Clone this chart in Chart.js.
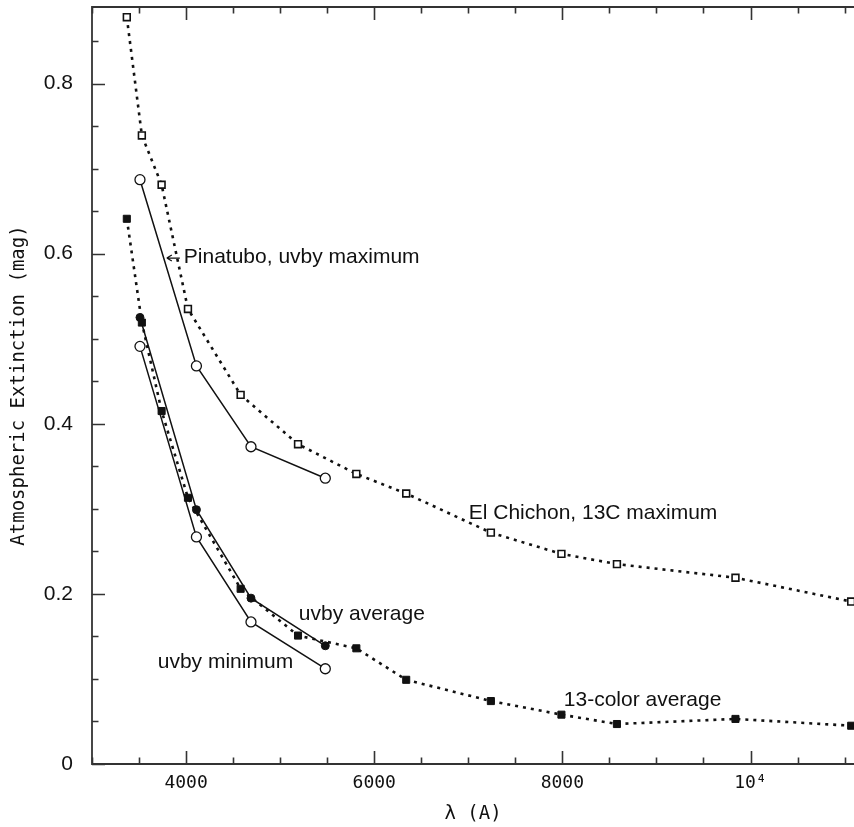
<!DOCTYPE html>
<html>
<head>
<meta charset="utf-8">
<script src="https://cdn.jsdelivr.net/npm/chart.js@4.4.1/dist/chart.umd.min.js"></script>
<style>
  html, body { margin: 0; padding: 0; background: #fff; overflow: hidden; }
  #wrap { width: 854px; height: 827px; }
</style>
</head>
<body>
<div id="wrap"><canvas id="extChart"></canvas></div>
<script>
// wavelengths (Angstrom) of the 13-color and uvby filters
const wl13 = [3370, 3530, 3740, 4020, 4580, 5190, 5810, 6340, 7240, 7990, 8580, 9840, 11070];
const wlUvby = [3510, 4110, 4690, 5480];

// extinction values (mag)
const elChichonMax = [0.878, 0.739, 0.681, 0.535, 0.434, 0.376, 0.341, 0.318, 0.272, 0.247, 0.235, 0.219, 0.191];
const thirteenColorAvg = [0.641, 0.519, 0.415, 0.313, 0.206, 0.151, 0.136, 0.099, 0.074, 0.058, 0.047, 0.053, 0.045];
const pinatuboMax = [0.687, 0.468, 0.373, 0.336];
const uvbyAvg = [0.525, 0.299, 0.195, 0.139];
const uvbyMin = [0.491, 0.267, 0.167, 0.112];

// axis ticks
const xTickValues = [4000, 6000, 8000, 10000];
const xTickLabels = ['4000', '6000', '8000', '10\u2074'];
const yTickValues = [0, 0.2, 0.4, 0.6, 0.8];
const yTickLabels = ['0', '0.2', '0.4', '0.6', '0.8'];
const xMinorStep = 500;
const yMinorStep = 0.05;

// text labels placed in data coordinates
const noteTexts = ['Pinatubo, uvby maximum', 'El Chichon, 13C maximum', 'uvby average', 'uvby minimum', '13-color average'];
const noteX = [3976, 7005, 5198, 3699, 8015];
const noteY = [0.596, 0.295, 0.176, 0.120, 0.075];

const INK = '#111';
const FRAME = '#333';

function pairs(xs, ys){
  return xs.map((x, i) => ({x: x, y: ys[i]}));
}

// frame + inward tick marks (major and minor) drawn through the scales
const frameTicks = {
  id: 'frameTicks',
  afterDatasetsDraw(chart){
    const ctx = chart.ctx;
    const a = chart.chartArea;
    const xs = chart.scales.x, ys = chart.scales.y;
    ctx.save();
    ctx.strokeStyle = FRAME;
    ctx.lineWidth = 1.8;
    ctx.beginPath();
    ctx.moveTo(a.right + 2, a.top); ctx.lineTo(a.left, a.top);
    ctx.lineTo(a.left, a.bottom); ctx.lineTo(a.right + 2, a.bottom);
    ctx.stroke();

    ctx.lineWidth = 1.6;
    ctx.beginPath();
    for(let v = xs.min; v <= xs.max + 1; v += xMinorStep){
      const major = v % 2000 === 0;
      const len = major ? 13 : 6.5;
      const px = Math.round(xs.getPixelForValue(v)) + 0.5;
      ctx.moveTo(px, a.bottom); ctx.lineTo(px, a.bottom - len);
      ctx.moveTo(px, a.top); ctx.lineTo(px, a.top + len);
    }
    for(let i = 0; i * yMinorStep <= ys.max + 1e-9; i++){
      const v = i * yMinorStep;
      const major = i % 4 === 0;
      const len = major ? 13 : 6.5;
      const py = Math.round(ys.getPixelForValue(v)) + 0.5;
      ctx.moveTo(a.left, py); ctx.lineTo(a.left + len, py);
    }
    ctx.stroke();
    ctx.restore();
  }
};

// annotation texts and the small arrow next to the Pinatubo label
const notes = {
  id: 'notes',
  afterDraw(chart){
    const ctx = chart.ctx;
    const xs = chart.scales.x, ys = chart.scales.y;
    ctx.save();
    ctx.fillStyle = INK;
    ctx.font = '21px "Liberation Sans", Arial, sans-serif';
    ctx.textBaseline = 'middle';
    ctx.textAlign = 'left';
    noteTexts.forEach((t, i) => {
      ctx.fillText(t, xs.getPixelForValue(noteX[i]), ys.getPixelForValue(noteY[i]));
    });
    // arrow pointing at the Pinatubo curve
    const ax = xs.getPixelForValue(noteX[0]) - 4;
    const ay = ys.getPixelForValue(noteY[0]) + 1;
    ctx.strokeStyle = INK;
    ctx.lineWidth = 1.3;
    ctx.beginPath();
    ctx.moveTo(ax, ay); ctx.lineTo(ax - 13, ay);
    ctx.moveTo(ax - 13, ay); ctx.lineTo(ax - 8, ay - 3);
    ctx.moveTo(ax - 13, ay); ctx.lineTo(ax - 8, ay + 3);
    ctx.stroke();
    ctx.restore();
  }
};

const dotted = [3, 5];

new Chart(document.getElementById('extChart'), {
  type: 'scatter',
  data: {
    datasets: [
      {
        label: 'El Chichon, 13C maximum',
        data: pairs(wl13, elChichonMax),
        showLine: true,
        borderColor: INK,
        borderWidth: 2.6,
        borderDash: dotted,
        pointStyle: 'rect',
        pointRadius: 4.8,
        pointBackgroundColor: '#fff',
        pointBorderColor: INK,
        pointBorderWidth: 1.6
      },
      {
        label: '13-color average',
        data: pairs(wl13, thirteenColorAvg),
        showLine: true,
        borderColor: INK,
        borderWidth: 2.6,
        borderDash: dotted,
        pointStyle: 'rect',
        pointRadius: 5,
        pointBackgroundColor: INK,
        pointBorderColor: INK,
        pointBorderWidth: 1
      },
      {
        label: 'Pinatubo, uvby maximum',
        data: pairs(wlUvby, pinatuboMax),
        showLine: true,
        borderColor: INK,
        borderWidth: 1.5,
        pointStyle: 'circle',
        pointRadius: 5,
        pointBackgroundColor: '#fff',
        pointBorderColor: INK,
        pointBorderWidth: 1.3
      },
      {
        label: 'uvby average',
        data: pairs(wlUvby, uvbyAvg),
        showLine: true,
        borderColor: INK,
        borderWidth: 1.5,
        pointStyle: 'circle',
        pointRadius: 4,
        pointBackgroundColor: INK,
        pointBorderColor: INK,
        pointBorderWidth: 1
      },
      {
        label: 'uvby minimum',
        data: pairs(wlUvby, uvbyMin),
        showLine: true,
        borderColor: INK,
        borderWidth: 1.5,
        pointStyle: 'circle',
        pointRadius: 5,
        pointBackgroundColor: '#fff',
        pointBorderColor: INK,
        pointBorderWidth: 1.3
      }
    ]
  },
  options: {
    responsive: true,
    maintainAspectRatio: false,
    animation: false,
    layout: {autoPadding: false, padding: {top: 7, right: 0, left: 0, bottom: 0}},
    plugins: {
      legend: {display: false},
      tooltip: {enabled: false}
    },
    scales: {
      x: {
        type: 'linear',
        min: 3000,
        max: 11100,
        afterBuildTicks: axis => { axis.ticks = xTickValues.map(v => ({value: v})); },
        afterFit: axis => {
          axis.height = 63;
          axis.paddingLeft = 0; axis.paddingRight = 0;
        },
        grid: {display: false, drawTicks: false},
        border: {display: false},
        ticks: {
          color: INK,
          padding: 9,
          maxRotation: 0,
          font: {family: '"DejaVu Sans Mono", monospace', size: 18},
          callback: (v) => xTickLabels[xTickValues.indexOf(v)] || ''
        },
        title: {
          display: true,
          text: '\u03bb (A)',
          color: INK,
          padding: {top: 0, bottom: 2},
          font: {family: '"DejaVu Sans Mono", monospace', size: 19}
        }
      },
      y: {
        type: 'linear',
        min: 0,
        max: 0.89,
        afterBuildTicks: axis => { axis.ticks = yTickValues.map(v => ({value: v})); },
        afterFit: axis => {
          axis.width = 92;
          axis.paddingTop = 0; axis.paddingBottom = 0;
        },
        grid: {display: false, drawTicks: false},
        border: {display: false},
        ticks: {
          color: INK,
          padding: 19,
          font: {family: '"Liberation Sans", Arial, sans-serif', size: 21},
          callback: (v) => {
            const i = yTickValues.findIndex(t => Math.abs(t - v) < 1e-9);
            return i >= 0 ? yTickLabels[i] : '';
          }
        },
        title: {
          display: true,
          text: 'Atmospheric Extinction (mag)',
          color: INK,
          padding: {top: 8, bottom: 0},
          font: {family: '"DejaVu Sans Mono", monospace', size: 19}
        }
      }
    }
  },
  plugins: [frameTicks, notes]
});
</script>
</body>
</html>
